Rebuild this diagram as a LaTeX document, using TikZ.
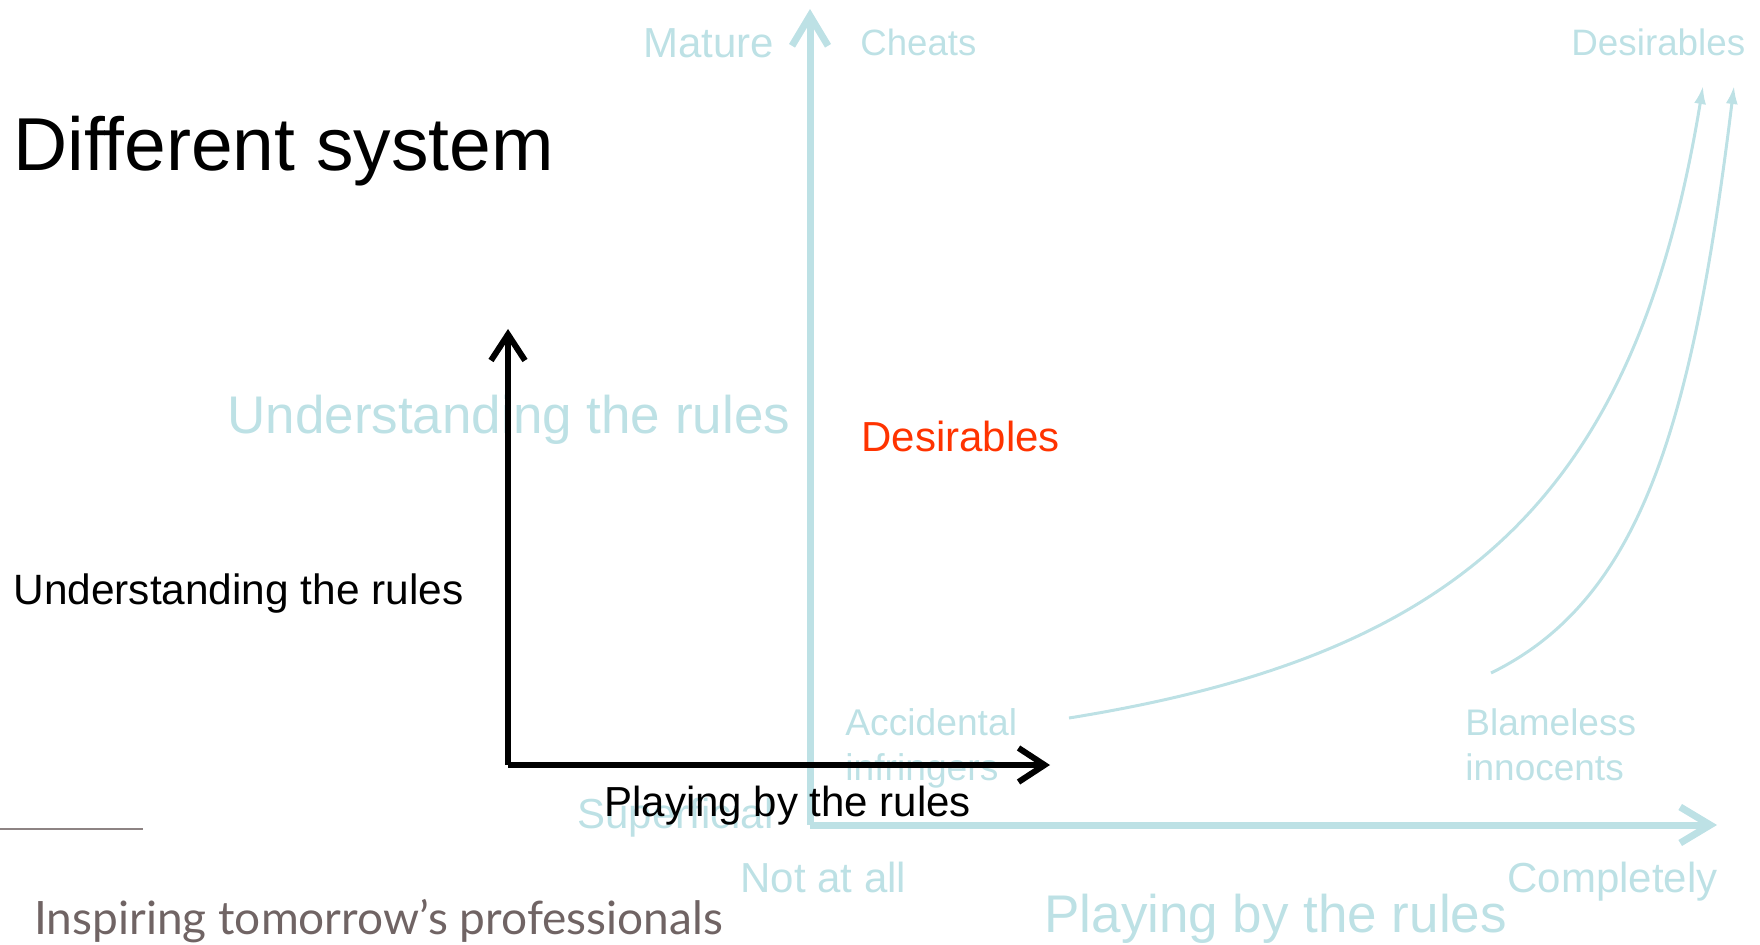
\documentclass[tikz,border=0pt]{standalone}
\usepackage{fontspec}
\setmainfont{Liberation Sans}
\newfontfamily\tagfont{Lato}
\usetikzlibrary{arrows.meta}

\definecolor{axisblue}{RGB}{189,225,229}
\definecolor{hotred}{RGB}{255,51,0}
\definecolor{taggray}{RGB}{112,100,100}

\tikzset{
  lbl/.style={anchor=base west, inner sep=0pt, font=\fontsize{#1}{#1}\selectfont},
  paleaxis/.style={draw=axisblue, line width=3.5pt, -{Straight Barb[length=15pt,width=18pt]}},
  inkaxis/.style={draw=black, line width=3pt, -{Straight Barb[length=13pt,width=17pt]}},
  drift/.style={draw=axisblue, line width=1.5pt, -{Latex[length=9pt,width=6pt]}}
}

\begin{document}
\begin{tikzpicture}[x=0.5pt, y=-0.5pt]
    \useasboundingbox (0,0) rectangle (1760,945);

    % title
    \node[lbl=37.5] (title) at (13,171) {Different system};

    % pale axes
    \coordinate (O) at (810,825);
    \coordinate (Ytop) at (810,9);
    \coordinate (Xend) at (1717,825);
    \draw[paleaxis] (O) -- (Ytop);
    \draw[paleaxis] (O) -- (Xend);

    \node[lbl=21, text=axisblue] (mature) at (643,58) {Mature};
    \node[lbl=18.3, text=axisblue] (cheats) at (860,56) {Cheats};
    \node[lbl=18.4, text=axisblue] (desTop) at (1571,56) {Desirables};
    \node[lbl=26.5, text=axisblue] (undBig) at (227,434) {Understanding the rules};
    \node[lbl=21, text=hotred] (desRed) at (861,452) {Desirables};
    \node[lbl=18.6, text=axisblue] (accA) at (845,735) {Accidental};
    \node[lbl=18.6, text=axisblue] (accB) at (845,780) {infringers};
    \node[lbl=18.5, text=axisblue] (blaA) at (1465,735) {Blameless};
    \node[lbl=18.5, text=axisblue] (blaB) at (1465,780) {innocents};
    \node[lbl=21, text=axisblue] (superf) at (577,828) {Superficial};
    \node[lbl=21, text=axisblue] (notall) at (740,892) {Not at all};
    \node[lbl=21, text=axisblue] (compl) at (1507,892) {Completely};
    \node[lbl=26.5, text=axisblue] (playBig) at (1044,932) {Playing by the rules};

    % drifting curves
    \coordinate (c1s) at (1069,718);
    \coordinate (c1e) at (1703,86);
    \coordinate (c2s) at (1491,673);
    \coordinate (c2e) at (1734,86);
    \draw[drift] (c1s) .. controls (1460,655) and (1635,500) .. (c1e);
    \draw[drift] (c2s) .. controls (1640,600) and (1692,428) .. (c2e);

    % black axes
    \coordinate (B) at (508,765);
    \coordinate (Btop) at (508,329);
    \coordinate (Bend) at (1050,765);
    \draw[inkaxis] (B) -- (Btop);
    \draw[inkaxis] (B) -- (Bend);
    \node[lbl=21.2] (undSmall) at (13,604) {Understanding the rules};
    \node[lbl=21] (playSmall) at (604,816) {Playing by the rules};

    % footer
    \coordinate (rule1) at (0,829);
    \coordinate (rule2) at (143,829);
    \draw[taggray!80, line width=1pt] (rule1) -- (rule2);
    \node[anchor=base west, inner sep=0pt, text=taggray,
          font=\tagfont\fontsize{23}{23}\selectfont] (tag) at (34,934) {Inspiring tomorrow’s professionals};
\end{tikzpicture}
\end{document}
